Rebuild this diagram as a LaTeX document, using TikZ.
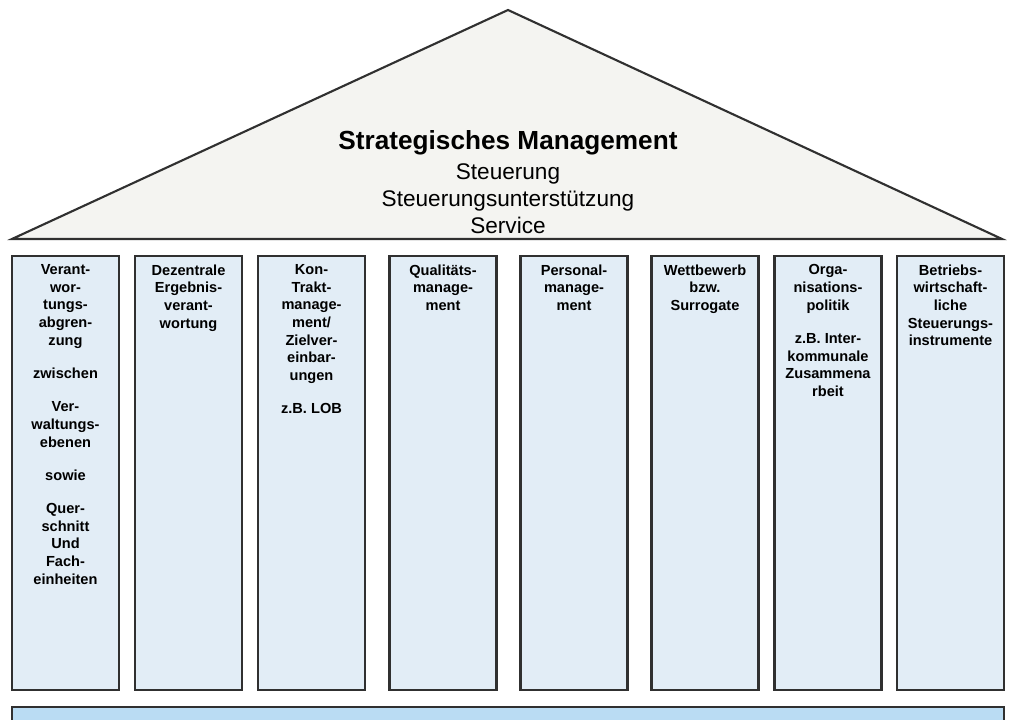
\documentclass[tikz,border=0pt]{standalone}
\usepackage{fontspec}
\setmainfont{Liberation Sans}

\definecolor{roofgray}{HTML}{F4F4F1}
\definecolor{pillarblue}{HTML}{E2EDF6}
\definecolor{baseblue}{HTML}{BADCF3}
\definecolor{edgegray}{HTML}{303030}

\begin{document}
\begin{tikzpicture}

\tikzset{
  roof/.style={draw=edgegray, fill=roofgray, line width=0.6pt, line join=miter},
  pillar/.style={draw=edgegray, fill=pillarblue, line width=0.6pt,
    minimum width=1.07cm, minimum height=4.34cm, inner sep=0pt},
  ptext/.style={anchor=north, align=center, inner xsep=0pt, inner ysep=2.6pt,
    font=\fontsize{4.15}{5}\selectfont\bfseries},
  basebar/.style={draw=edgegray, fill=baseblue, line width=0.6pt,
    minimum width=9.92cm, minimum height=0.30cm, inner sep=0pt}
}

% --- Rahmen (1010 x 720) ---
\useasboundingbox (0,0) rectangle (10.10,-7.20);

% --- Dach ---
\coordinate (apex)  at (5.08,-0.10);
\coordinate (eaveL) at (0.12,-2.39);
\coordinate (eaveR) at (10.02,-2.39);
\draw[roof] (eaveL) -- (apex) -- (eaveR) -- cycle;

\node[anchor=base, font=\fontsize{7.45}{9}\selectfont\bfseries] (title) at (5.08,-1.50)
  {Strategisches Management};
\node[anchor=north, align=center, inner sep=0pt, font=\fontsize{6.43}{7.7}\selectfont] (sub) at (5.08,-1.63)
  {Steuerung\\Steuerungsunterstützung\\Service};

% --- Säulen ---
\node[pillar] (p1) at (0.655,-4.73) {};
\node[pillar] (p2) at (1.885,-4.73) {};
\node[pillar] (p3) at (3.115,-4.73) {};
\node[pillar] (p4) at (4.430,-4.73) {};
\node[pillar] (p5) at (5.740,-4.73) {};
\node[pillar] (p6) at (7.050,-4.73) {};
\node[pillar] (p7) at (8.280,-4.73) {};
\node[pillar] (p8) at (9.505,-4.73) {};

% --- Beschriftung der Säulen ---
\node[ptext] (t1) at (p1.north) {Verant-\\wor-\\tungs-\\abgren-\\zung\\[4.5pt]zwischen\\[4.5pt]Ver-\\waltungs-\\ebenen\\[4.5pt]sowie\\[4.5pt]Quer-\\schnitt\\Und\\Fach-\\einheiten};
\node[ptext] (t2) at (p2.north) {Dezentrale\\Ergebnis-\\verant-\\wortung};
\node[ptext] (t3) at (p3.north) {Kon-\\Trakt-\\manage-\\ment/\\Zielver-\\einbar-\\ungen\\[4.5pt]z.B. LOB};
\node[ptext] (t4) at (p4.north) {Qualitäts-\\manage-\\ment};
\node[ptext] (t5) at (p5.north) {Personal-\\manage-\\ment};
\node[ptext] (t6) at (p6.north) {Wettbewerb\\bzw.\\Surrogate};
\node[ptext] (t7) at (p7.north) {Orga-\\nisations-\\politik\\[4.5pt]z.B. Inter-\\kommunale\\Zusammena\\rbeit};
\node[ptext] (t8) at (p8.north) {Betriebs-\\wirtschaft-\\liche\\Steuerungs-\\instrumente};

% --- Fundament ---
\node[basebar] (base) at (5.08,-7.22) {};

\end{tikzpicture}
\end{document}
